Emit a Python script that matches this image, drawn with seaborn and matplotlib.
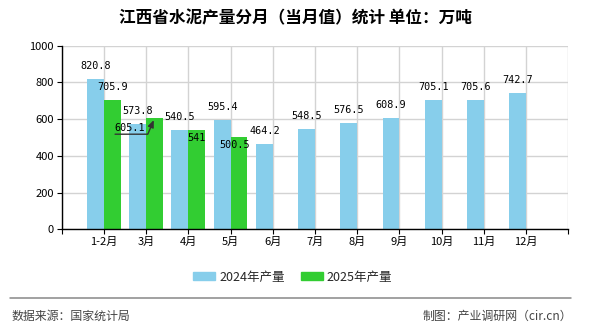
import numpy as np
import pandas as pd
import matplotlib
matplotlib.use("Agg")
import matplotlib.pyplot as plt
from matplotlib.lines import Line2D
import seaborn as sns

# Monthly cement output in Jiangxi (10k tonnes)
months = ["1-2月", "3月", "4月", "5月", "6月", "7月", "8月", "9月", "10月", "11月", "12月"]
output_2024 = [820.8, 573.8, 540.5, 595.4, 464.2, 548.5, 576.5, 608.9, 705.1, 705.6, 742.7]
output_2025 = [705.9, 605.1, 541, 500.5]
series_names = ["2024年产量", "2025年产量"]
y_ticks = [0, 200, 400, 600, 800, 1000]

title_text = "江西省水泥产量分月（当月值）统计 单位：万吨"
source_text = "数据来源：国家统计局"
credit_text = "制图：产业调研网（cir.cn）"

colors = {"2024年产量": "#87CEEB", "2025年产量": "#32CD32"}

sns.set_theme(style="white")
plt.rcParams["font.family"] = ["Noto Sans CJK SC", "DejaVu Sans"]

rows = []
for i, m in enumerate(months):
    rows.append({"month": m, "series": series_names[0], "value": output_2024[i]})
    v25 = output_2025[i] if i < len(output_2025) else np.nan
    rows.append({"month": m, "series": series_names[1], "value": v25})
df = pd.DataFrame(rows)

fig = plt.figure(figsize=(5.9, 3.3), dpi=100)
ax = fig.add_axes([0.1046, 0.3052, 0.8586, 0.5563])

sns.barplot(data=df, x="month", y="value", hue="series", order=months,
            hue_order=series_names, palette=colors, width=0.8, gap=0,
            saturation=1, errorbar=None, linewidth=0, edgecolor="none",
            ax=ax, legend=False)

ax.set_xlim(-1, 11)
ax.set_ylim(0, 1000)
ax.set_xticks(range(-1, 12))
ax.set_xticklabels([""] + months + [""])
ax.set_yticks(y_ticks)
ax.set_yticklabels([str(t) for t in y_ticks])
ax.set_xlabel("")
ax.set_ylabel("")

ax.grid(True, color="#d3d3d3", linewidth=1.0)
ax.set_axisbelow(True)
for s in ["top", "right"]:
    ax.spines[s].set_visible(False)
for s in ["left", "bottom"]:
    ax.spines[s].set_color("black")
    ax.spines[s].set_linewidth(1.0)
ax.tick_params(axis="both", which="both", length=3.5, width=0.8, color="black",
               labelsize=8, labelcolor="black", pad=2, left=True, bottom=True)

label_font = dict(family="DejaVu Sans Mono", fontsize=7.3, color="black",
                  ha="center", va="center")
px = 72.0 / fig.dpi  # points per pixel

# 2024 labels above each bar
for i, v in enumerate(output_2024):
    ax.annotate(f"{v:g}", xy=(i - 0.2, v), xytext=(0, 13 * px),
                textcoords="offset points", **label_font)

# 2025 labels; some are shifted to avoid overlaps
offsets_2025 = {0: (0, 13), 1: (-24.5, -9.3), 2: (0, -8), 3: (-4.5, -8)}
for i, v in enumerate(output_2025):
    dx, dy = offsets_2025[i]
    ax.annotate(f"{v:g}", xy=(i + 0.2, v), xytext=(dx * px, dy * px),
                textcoords="offset points", **label_font)

# leader line for the shifted March 2025 label
ax.annotate("", xy=(1 + 0.2, output_2025[1]), xytext=(-39.5 * px, -16 * px),
            textcoords="offset points",
            arrowprops=dict(arrowstyle="-|>,head_length=0.35,head_width=0.15",
                            color="#333333", lw=1.0, shrinkA=0, shrinkB=1.5,
                            connectionstyle="angle,angleA=0,angleB=67,rad=0"))

fig.text(0.5, 0.945, title_text, ha="center", va="center", fontsize=12,
         fontweight="bold", color="black")

handles = [plt.Rectangle((0, 0), 1, 1, color=colors[n]) for n in series_names]
fig.legend(handles, series_names, loc="center", bbox_to_anchor=(0.496, 0.1606),
           ncol=2, frameon=False, fontsize=9, handlelength=1.75, handleheight=0.65,
           handletextpad=0.3, columnspacing=1.3)

fig.add_artist(Line2D([10 / 590, 571 / 590], [1 - 298.3 / 330] * 2,
                      transform=fig.transFigure, color="#888888", lw=1.1))
fig.text(12 / 590, 1 - 316 / 330, source_text, ha="left", va="center",
         fontsize=8.6, color="#444444")
fig.text(572 / 590, 1 - 316 / 330, credit_text, ha="right", va="center",
         fontsize=8.6, color="#444444")

fig.savefig("out.png", dpi=100)
